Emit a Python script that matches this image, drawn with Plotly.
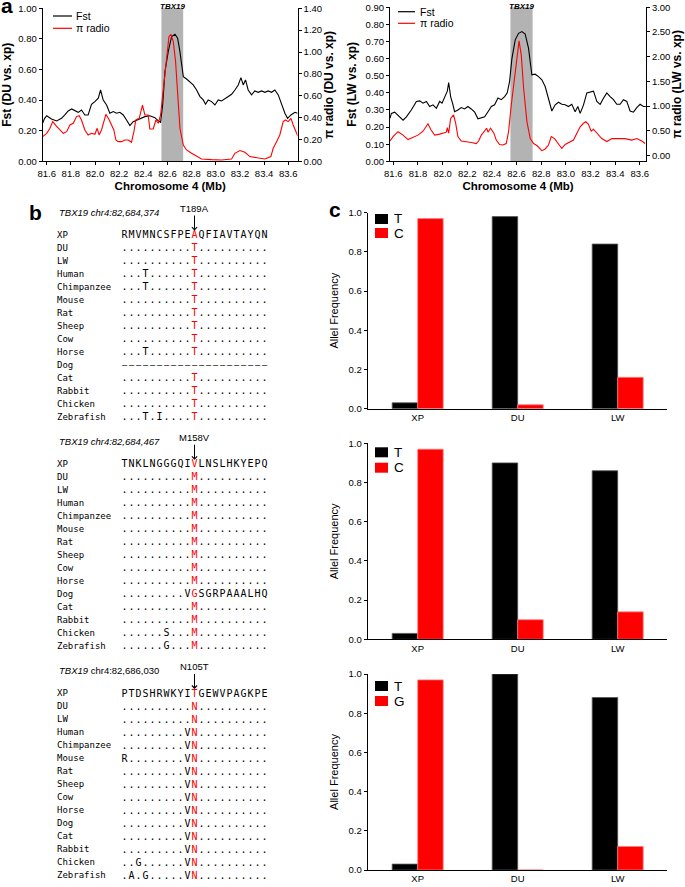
import plotly.graph_objects as go

W, H = 685, 887
SANS = "Liberation Sans, Arial, sans-serif"
MONO = "DejaVu Sans Mono, monospace"
RED = "#ff0000"

# ---------------- data: panel a (position Mb, value) ----------------
DU_FST = [(81.567, 0.25), (81.583, 0.281), (81.600, 0.298), (81.640, 0.277), (81.682, 0.264),
          (81.723, 0.281), (81.750, 0.303), (81.778, 0.329), (81.806, 0.342), (81.833, 0.329),
          (81.861, 0.320), (81.888, 0.335), (81.916, 0.303), (81.943, 0.303), (81.971, 0.372),
          (81.999, 0.390), (82.027, 0.412), (82.046, 0.466), (82.068, 0.400), (82.096, 0.368),
          (82.123, 0.314), (82.151, 0.325), (82.178, 0.314), (82.206, 0.320), (82.234, 0.303),
          (82.261, 0.270), (82.289, 0.233), (82.316, 0.259), (82.344, 0.270), (82.371, 0.281),
          (82.413, 0.292), (82.454, 0.298), (82.496, 0.285), (82.524, 0.264), (82.543, 0.255),
          (82.560, 0.368), (82.579, 0.586), (82.607, 0.720), (82.634, 0.815), (82.662, 0.830),
          (82.684, 0.804), (82.703, 0.717), (82.731, 0.553), (82.758, 0.538), (82.786, 0.521),
          (82.813, 0.499), (82.841, 0.466), (82.869, 0.423), (82.896, 0.401), (82.915, 0.373),
          (82.937, 0.401), (82.965, 0.390), (82.993, 0.368), (83.020, 0.401), (83.048, 0.394),
          (83.075, 0.407), (83.103, 0.423), (83.131, 0.438), (83.158, 0.466), (83.186, 0.499),
          (83.208, 0.547), (83.227, 0.499), (83.246, 0.532), (83.268, 0.466), (83.296, 0.434),
          (83.323, 0.460), (83.351, 0.451), (83.379, 0.460), (83.406, 0.451), (83.434, 0.460),
          (83.461, 0.451), (83.489, 0.466), (83.517, 0.434), (83.544, 0.368), (83.572, 0.314),
          (83.594, 0.281), (83.622, 0.303), (83.655, 0.320), (83.677, 0.314)]

DU_PI = [(81.567, 0.226), (81.600, 0.256), (81.627, 0.302), (81.650, 0.363), (81.677, 0.326),
         (81.710, 0.287), (81.737, 0.256), (81.765, 0.271), (81.792, 0.332), (81.820, 0.348),
         (81.847, 0.409), (81.869, 0.418), (81.888, 0.378), (81.916, 0.287), (81.943, 0.241),
         (81.971, 0.256), (81.999, 0.247), (82.018, 0.302), (82.034, 0.241), (82.054, 0.287),
         (82.073, 0.378), (82.090, 0.430), (82.118, 0.378), (82.137, 0.332), (82.156, 0.287),
         (82.173, 0.195), (82.192, 0.180), (82.220, 0.180), (82.247, 0.195), (82.275, 0.195),
         (82.302, 0.174), (82.322, 0.271), (82.338, 0.378), (82.366, 0.393), (82.393, 0.515),
         (82.413, 0.424), (82.440, 0.424), (82.454, 0.296), (82.482, 0.296), (82.504, 0.378),
         (82.524, 0.348), (82.543, 0.424), (82.570, 0.729), (82.593, 0.950), (82.612, 1.140),
         (82.629, 1.162), (82.648, 1.095), (82.667, 0.912), (82.684, 0.576), (82.703, 0.302),
         (82.731, 0.149), (82.758, 0.104), (82.800, 0.073), (82.841, 0.043), (82.882, 0.021),
         (82.965, 0.015), (83.048, 0.012), (83.131, 0.021), (83.158, 0.073), (83.200, 0.098),
         (83.241, 0.082), (83.282, 0.043), (83.351, 0.027), (83.406, 0.021), (83.456, 0.043),
         (83.475, 0.119), (83.503, 0.180), (83.530, 0.241), (83.558, 0.363), (83.577, 0.378),
         (83.599, 0.363), (83.622, 0.393), (83.641, 0.332), (83.668, 0.256), (83.677, 0.235)]

LW_FST = [(81.573, 0.251), (81.584, 0.280), (81.611, 0.287), (81.652, 0.260), (81.679, 0.240),
          (81.706, 0.260), (81.746, 0.300), (81.787, 0.350), (81.814, 0.353), (81.841, 0.340),
          (81.868, 0.350), (81.895, 0.320), (81.922, 0.330), (81.949, 0.310), (81.976, 0.350),
          (81.995, 0.340), (82.016, 0.370), (82.038, 0.410), (82.049, 0.460), (82.065, 0.378),
          (82.084, 0.330), (82.097, 0.290), (82.124, 0.300), (82.151, 0.314), (82.178, 0.306),
          (82.205, 0.320), (82.232, 0.306), (82.260, 0.287), (82.287, 0.248), (82.314, 0.255),
          (82.341, 0.260), (82.368, 0.290), (82.395, 0.320), (82.422, 0.330), (82.449, 0.370),
          (82.476, 0.360), (82.503, 0.378), (82.524, 0.400), (82.543, 0.466), (82.562, 0.600),
          (82.589, 0.710), (82.616, 0.748), (82.643, 0.758), (82.670, 0.743), (82.697, 0.660),
          (82.724, 0.505), (82.751, 0.509), (82.778, 0.495), (82.805, 0.476), (82.832, 0.437),
          (82.846, 0.400), (82.865, 0.350), (82.886, 0.294), (82.913, 0.330), (82.940, 0.345),
          (82.967, 0.333), (82.994, 0.330), (83.021, 0.320), (83.048, 0.333), (83.075, 0.290),
          (83.097, 0.320), (83.116, 0.280), (83.143, 0.330), (83.170, 0.400), (83.197, 0.403),
          (83.224, 0.410), (83.251, 0.350), (83.278, 0.333), (83.305, 0.368), (83.332, 0.400),
          (83.359, 0.378), (83.386, 0.360), (83.413, 0.333), (83.440, 0.333), (83.467, 0.360),
          (83.494, 0.350), (83.521, 0.294), (83.548, 0.287), (83.575, 0.314), (83.602, 0.333),
          (83.629, 0.320), (83.649, 0.320)]

LW_PI = [(81.573, 0.29), (81.598, 0.38), (81.638, 0.48), (81.679, 0.41), (81.719, 0.32),
         (81.760, 0.36), (81.800, 0.41), (81.841, 0.49), (81.868, 0.58), (81.881, 0.64),
         (81.903, 0.53), (81.935, 0.41), (81.976, 0.43), (82.003, 0.45), (82.030, 0.47),
         (82.038, 0.56), (82.049, 0.45), (82.065, 0.75), (82.089, 0.82), (82.106, 0.65),
         (82.124, 0.38), (82.151, 0.29), (82.192, 0.28), (82.232, 0.26), (82.273, 0.24),
         (82.292, 0.29), (82.314, 0.41), (82.341, 0.49), (82.357, 0.55), (82.368, 0.47),
         (82.389, 0.55), (82.416, 0.45), (82.435, 0.31), (82.462, 0.22), (82.489, 0.21),
         (82.516, 0.24), (82.535, 0.48), (82.557, 1.02), (82.584, 1.56), (82.605, 2.10),
         (82.620, 2.32), (82.638, 2.03), (82.657, 1.36), (82.684, 0.68), (82.711, 0.34),
         (82.738, 0.24), (82.765, 0.20), (82.805, 0.095), (82.832, 0.13), (82.859, 0.21),
         (82.881, 0.38), (82.908, 0.34), (82.940, 0.24), (82.967, 0.14), (82.994, 0.22),
         (83.034, 0.28), (83.062, 0.31), (83.089, 0.45), (83.116, 0.58), (83.143, 0.65),
         (83.162, 0.68), (83.183, 0.63), (83.205, 0.49), (83.224, 0.53), (83.251, 0.45),
         (83.291, 0.34), (83.332, 0.28), (83.373, 0.34), (83.426, 0.34), (83.480, 0.34),
         (83.534, 0.31), (83.575, 0.34), (83.616, 0.29), (83.643, 0.24)]

TBX19_BAND = [82.55, 82.73]

# ---------------- data: panel c ----------------
POPS = ["XP", "DU", "LW"]
SNP1_T = [0.03, 0.98, 0.84]
SNP1_C = [0.97, 0.02, 0.16]
SNP2_T = [0.03, 0.90, 0.86]
SNP2_C = [0.97, 0.10, 0.14]
SNP3_T = [0.03, 1.00, 0.88]
SNP3_G = [0.97, 0.00, 0.12]

# ---------------- data: panel b ----------------
SPECIES = ["XP", "DU", "LW", "Human", "Chimpanzee", "Mouse", "Rat", "Sheep", "Cow",
           "Horse", "Dog", "Cat", "Rabbit", "Chicken", "Zebrafish"]
ALN1 = ["RMVMNCSFPEAQFIAVTAYQN",
        "..........T..........",
        "..........T..........",
        "...T......T..........",
        "...T......T..........",
        "..........T..........",
        "..........T..........",
        "..........T..........",
        "..........T..........",
        "...T......T..........",
        "---------------------",
        "..........T..........",
        "..........T..........",
        "..........T..........",
        "...T.I....T.........."]
ALN2 = ["TNKLNGGGQIVLNSLHKYEPQ",
        "..........M..........",
        "..........M..........",
        "..........M..........",
        "..........M..........",
        "..........M..........",
        "..........M..........",
        "..........M..........",
        "..........M..........",
        "..........M..........",
        ".........VGSGRPAAALHQ",
        "..........M..........",
        "..........M..........",
        "......S...M..........",
        "......G...M.........."]
ALN3 = ["PTDSHRWKYITGEWVPAGKPE",
        "..........N..........",
        "..........N..........",
        ".........VN..........",
        ".........VN..........",
        "R........VN..........",
        ".........VN..........",
        ".........VN..........",
        ".........VN..........",
        ".........VN..........",
        ".........VN..........",
        ".........VN..........",
        ".........VN..........",
        "..G......VN..........",
        ".A.G.....VN.........."]
HEADERS = ["<i>TBX19 chr4:82,684,374</i>", "<i>TBX19 chr4:82,684,467</i>",
           "<i>TBX19</i> chr4:82,686,030"]
MUTATIONS = ["T189A", "M158V", "N105T"]
MUT_COL = 10


# ---------------- layout helpers ----------------
def fx(p):
    return p / W


def fy(p):
    return 1 - p / H


def dom_y(top, bottom):
    return [fy(bottom), fy(top)]


fig = go.Figure()

# ---- panel a ----
for (fst, pi, xa, ya, yb) in [(DU_FST, DU_PI, "x", "y", "y2"),
                              (LW_FST, LW_PI, "x2", "y3", "y4")]:
    fig.add_trace(go.Scatter(x=[p[0] for p in fst], y=[p[1] for p in fst], mode="lines",
                             name="Fst", line=dict(color="black", width=1.1),
                             xaxis=xa, yaxis=ya, showlegend=False, hoverinfo="skip"))
    fig.add_trace(go.Scatter(x=[p[0] for p in pi], y=[p[1] for p in pi], mode="lines",
                             name="π radio", line=dict(color=RED, width=1.1),
                             xaxis=xa, yaxis=yb, showlegend=False, hoverinfo="skip"))

# ---- panel c ----
bar_sets = [(SNP1_T, SNP1_C, "C", "x3", "y5"),
            (SNP2_T, SNP2_C, "C", "x4", "y6"),
            (SNP3_T, SNP3_G, "G", "x5", "y7")]
for t_vals, o_vals, oname, xa, ya in bar_sets:
    fig.add_trace(go.Bar(x=POPS, y=t_vals, name="T", marker=dict(color="black",
                         line=dict(color="#555555", width=0.8)),
                         xaxis=xa, yaxis=ya, showlegend=False, hoverinfo="skip"))
    fig.add_trace(go.Bar(x=POPS, y=o_vals, name=oname, marker=dict(color=RED,
                         line=dict(color="#ff8080", width=0.8)),
                         xaxis=xa, yaxis=ya, showlegend=False, hoverinfo="skip"))

# ---- panel b ----
BLOCK_GAP = 17.63
NAME_COL = -9.64
DISPLAY = {"-": "–"}
sx, sy, st, sc, ss = [], [], [], [], []
nx, ny, nt = [], [], []
for b, aln in enumerate([ALN1, ALN2, ALN3]):
    for r, row in enumerate(aln):
        nx.append(NAME_COL)
        ny.append(b * BLOCK_GAP + r)
        nt.append(SPECIES[r])
        for c, ch in enumerate(row):
            sx.append(c)
            sy.append(b * BLOCK_GAP + r)
            st.append(DISPLAY.get(ch, ch))
            sc.append(RED if (c == MUT_COL and ch != "-") else "black")
            ss.append(8.5 if ch == "-" else 10)
fig.add_trace(go.Scatter(x=sx, y=sy, text=st, mode="text", textposition="middle center",
                         textfont=dict(family=MONO, size=ss, color=sc),
                         xaxis="x6", yaxis="y8", showlegend=False, hoverinfo="skip"))
fig.add_trace(go.Scatter(x=nx, y=ny, text=nt, mode="text", textposition="middle right",
                         textfont=dict(family=MONO, size=9, color="black"),
                         xaxis="x6", yaxis="y8", showlegend=False, hoverinfo="skip"))

annotations = []
shapes = []
for b in range(3):
    annotations.append(dict(x=NAME_COL, y=b * BLOCK_GAP - 1.8, xref="x6", yref="y8",
                            text=HEADERS[b], showarrow=False, xanchor="left", yanchor="middle",
                            font=dict(family=SANS, size=9.5, color="black")))
    annotations.append(dict(x=MUT_COL, y=b * BLOCK_GAP - 0.4, xref="x6", yref="y8",
                            text=MUTATIONS[b], showarrow=True, ax=0, ay=-22,
                            arrowhead=4, arrowsize=1, arrowwidth=1, arrowcolor="black",
                            font=dict(family=SANS, size=9.5, color="black")))

# TBX19 labels above bands
for xa in ["x", "x2"]:
    annotations.append(dict(x=sum(TBX19_BAND) / 2, y=fy(7), xref=xa, yref="paper",
                            text="<b><i>TBX19</i></b>", showarrow=False,
                            xanchor="center", yanchor="middle",
                            font=dict(family=SANS, size=8, color="black")))

# panel letters
for txt, px, py in [("a", -1, 5.7), ("b", 27, 213), ("c", 327, 209)]:
    annotations.append(dict(x=fx(px), y=fy(py), xref="paper", yref="paper", text=f"<b>{txt}</b>",
                            showarrow=False, xanchor="left", yanchor="middle",
                            font=dict(family=SANS, size=21, color="black")))

# legends for panel a (line swatch + label)
for (lx0, lx1, tx, rows) in [(53, 72, 74, [(16, "black", "Fst"), (28.3, RED, "π radio")]),
                             (398, 415, 418, [(11.7, "black", "Fst"), (23.3, RED, "π radio")])]:
    for (ry, col, lab) in rows:
        shapes.append(dict(type="line", xref="paper", yref="paper", x0=fx(lx0), x1=fx(lx1),
                           y0=fy(ry), y1=fy(ry), line=dict(color=col, width=1.2)))
        annotations.append(dict(x=fx(tx), y=fy(ry), xref="paper", yref="paper", text=lab,
                                showarrow=False, xanchor="left", yanchor="middle",
                                font=dict(family=SANS, size=10.5, color="black")))

# legends for panel c (square swatch + label)
bar_leg = [(214, 228, "C"), (447.3, 462.7, "C"), (681, 696, "G")]
for (t_top, o_top, oname) in bar_leg:
    for (top, col, lab) in [(t_top, "black", "T"), (o_top, RED, oname)]:
        shapes.append(dict(type="rect", xref="paper", yref="paper", x0=fx(375), x1=fx(388),
                           y0=fy(top + 10), y1=fy(top), fillcolor=col, line=dict(width=0)))
        annotations.append(dict(x=fx(392), y=fy(top + 5), xref="paper", yref="paper", text=lab,
                                showarrow=False, xanchor="left", yanchor="middle",
                                font=dict(family=SANS, size=13.5, color="black")))

for xa, ya in [("x", "y"), ("x2", "y3")]:
    shapes.append(dict(type="rect", xref=xa, yref=f"{ya} domain", x0=TBX19_BAND[0],
                       x1=TBX19_BAND[1], y0=0, y1=1, fillcolor="#b3b3b3",
                       line=dict(width=0), layer="below"))

axis_common = dict(showline=True, linecolor="black", linewidth=1, showgrid=False,
                   zeroline=False, ticks="outside", ticklen=3, tickcolor="black",
                   automargin=False,
                   tickfont=dict(family=SANS, size=9.5, color="black"))


def ax(**kw):
    d = dict(axis_common)
    d.update(kw)
    return d


ttl_a = dict(family=SANS, size=11.5, color="black")
ttl_y = dict(family=SANS, size=12, color="black")

layout = dict(
    width=W, height=H, margin=dict(l=0, r=0, t=0, b=0, autoexpand=False),
    paper_bgcolor="white", plot_bgcolor="rgba(0,0,0,0)",
    font=dict(family=SANS, color="black"), showlegend=False,
    barmode="group", bargap=0.49, bargroupgap=0,
    # panel a left
    xaxis=ax(domain=[fx(42.7), fx(297.7)], range=[81.567, 83.678], tick0=81.6, dtick=0.2,
             tickformat=".1f", anchor="y",
             title=dict(text="<b>Chromosome 4 (Mb)</b>", font=ttl_a, standoff=4)),
    yaxis=ax(domain=dom_y(8.3, 161.3), range=[0, 1.0], dtick=0.2, tickformat=".2f", anchor="x",
             title=dict(text="<b>Fst (DU vs. xp)</b>", font=ttl_y, standoff=6)),
    yaxis2=ax(overlaying="y", side="right", anchor="x", range=[0, 1.4], dtick=0.2,
              tickformat=".2f",
              title=dict(text="<b>π radio (DU vs. xp)</b>", font=ttl_y, standoff=3)),
    # panel a right
    xaxis2=ax(domain=[fx(390), fx(646)], range=[81.573, 83.65], tick0=81.6, dtick=0.2,
              tickformat=".1f", anchor="y3",
              title=dict(text="<b>Chromosome 4 (Mb)</b>", font=ttl_a, standoff=4)),
    yaxis3=ax(domain=dom_y(7.3, 161.3), range=[0, 0.9], dtick=0.1, tickformat=".2f",
              anchor="x2",
              title=dict(text="<b>Fst (LW vs. xp)</b>", font=ttl_y, standoff=6)),
    yaxis4=ax(overlaying="y3", side="right", anchor="x2", range=[-0.12, 3.0], tick0=0,
              dtick=0.5, tickformat=".2f",
              title=dict(text="<b>π radio (LW vs. xp)</b>", font=ttl_y, standoff=3)),
    # panel b (text grid)
    xaxis6=dict(domain=[0, fx(330)], range=[(0 - 124.5) / 7.0, (330 - 124.5) / 7.0],
                visible=False, anchor="y8", automargin=False),
    yaxis8=dict(domain=dom_y(195, 887), range=[(887 - 235.7) / 13.0, (195 - 235.7) / 13.0],
                visible=False, anchor="x6", automargin=False),
    annotations=annotations, shapes=shapes,
)

bar_y_domains = [(212.7, 408.7), (443.3, 639.3), (674, 870)]
for i, (top, bot) in enumerate(bar_y_domains):
    xi, yi = 3 + i, 5 + i
    layout[f"xaxis{xi}"] = ax(domain=[fx(367.7), fx(666.7)], type="category",
                              range=[-0.5, 2.49], ticks="", anchor=f"y{yi}")
    layout[f"yaxis{yi}"] = ax(domain=dom_y(top, bot), range=[0, 1.0], dtick=0.2,
                              tickformat=".1f", anchor=f"x{xi}",
                              title=dict(text="Allel Frequency",
                                         font=dict(family=SANS, size=11, color="black"),
                                         standoff=7))

fig.update_layout(**layout)
# remove the browser's default 8px page margin so the figure fills the window exactly
fig.write_html("out.html", config={"displayModeBar": False},
               post_script="document.body.style.margin='0px';")
